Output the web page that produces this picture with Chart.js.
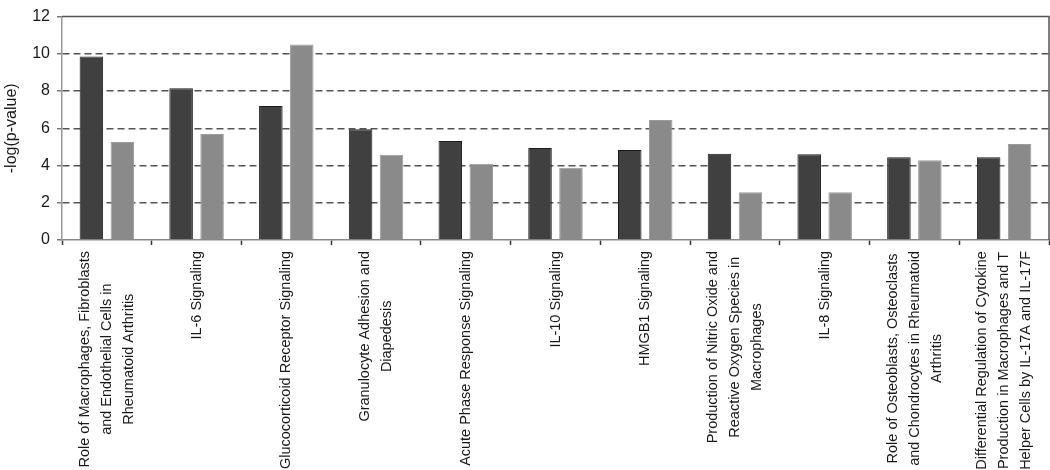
<!DOCTYPE html>
<html>
<head>
<meta charset="utf-8">
<script src="https://cdn.jsdelivr.net/npm/chart.js@4/dist/chart.umd.min.js"></script>
<style>
    body { margin: 0; background: #fff; }
    #wrap { width: 1050px; height: 470px; }
</style>
</head>
<body>
<div id="wrap"><canvas id="myChart" width="1050" height="470"></canvas></div>
<script>
// pathway names, one array of lines per category
const pathways = [
    ["Role of Macrophages, Fibroblasts", "and Endothelial Cells in", "Rheumatoid Arthritis"],
    ["IL-6 Signaling"],
    ["Glucocorticoid Receptor Signaling"],
    ["Granulocyte Adhesion and", "Diapedesis"],
    ["Acute Phase Response Signaling"],
    ["IL-10 Signaling"],
    ["HMGB1 Signaling"],
    ["Production of Nitric Oxide and", "Reactive Oxygen Species in", "Macrophages"],
    ["IL-8 Signaling"],
    ["Role of Osteoblasts, Osteoclasts", "and Chondrocytes in Rheumatoid", "Arthritis"],
    ["Differential Regulation of Cytokine", "Production in Macrophages and T", "Helper Cells by IL-17A and IL-17F"]
];
const darkValues = [9.86, 8.15, 7.2, 5.95, 5.32, 4.94, 4.84, 4.63, 4.6, 4.44, 4.44];
const lightValues = [5.27, 5.7, 10.5, 4.58, 4.1, 3.88, 6.45, 2.56, 2.56, 4.29, 5.16];
const yTicks = [0, 2, 4, 6, 8, 10, 12];

const labelFont = '15px "Liberation Sans", Arial, sans-serif';

// draws the rotated, centred category names and the top/right frame
const labelPlugin = {
    id: 'pathwayLabels',
    afterDraw(chart) {
        const ctx = chart.ctx;
        const xScale = chart.scales.x;
        const area = chart.chartArea;

        ctx.save();
        ctx.strokeStyle = '#555';
        ctx.lineWidth = 1.5;
        ctx.beginPath();
        ctx.moveTo(area.left, area.top);
        ctx.lineTo(area.right, area.top);
        ctx.lineTo(area.right, area.bottom);
        ctx.stroke();
        ctx.restore();

        ctx.save();
        ctx.font = labelFont;
        ctx.fillStyle = '#1a1a1a';
        ctx.textAlign = 'center';
        ctx.textBaseline = 'middle';
        const lineHeight = 22;
        const top = area.bottom + 11;
        const squeeze = 0.965;
        pathways.forEach((lines, i) => {
            const x = xScale.getPixelForValue(i);
            const blockWidth = Math.max(...lines.map(l => ctx.measureText(l).width)) * squeeze;
            ctx.save();
            ctx.translate(x, top);
            ctx.rotate(-Math.PI / 2);
            lines.forEach((line, j) => {
                const offset = (j - (lines.length - 1) / 2) * lineHeight;
                ctx.save();
                ctx.translate(-blockWidth / 2, offset);
                ctx.scale(squeeze, 1);
                ctx.fillText(line, 0, 0);
                ctx.restore();
            });
            ctx.restore();
        });
        ctx.restore();
    }
};

const ctx = document.getElementById('myChart');
const myChart = new Chart(ctx, {
    type: 'bar',
    data: {
        labels: pathways.map(p => p.join(' ')),
        datasets: [{
            label: 'Series 1',
            data: darkValues,
            backgroundColor: '#404040',
            borderColor: '#1c1c1c',
            borderWidth: 1
        }, {
            label: 'Series 2',
            data: lightValues,
            backgroundColor: '#8a8a8a',
            borderColor: '#9c9c9c',
            borderWidth: 1
        }]
    },
    options: {
        responsive: false,
        animation: false,
        layout: { padding: { top: 6, right: 1, left: 0, bottom: 0 } },
        categoryPercentage: 0.69,
        barPercentage: 0.76,
        plugins: {
            legend: { display: false },
            tooltip: { enabled: false }
        },
        scales: {
            x: {
                afterFit: s => { s.height = 230; },
                ticks: { display: false },
                grid: {
                    offset: true,
                    drawOnChartArea: false,
                    drawTicks: true,
                    tickLength: 5,
                    tickColor: '#333',
                    tickWidth: 1.5
                },
                border: { color: '#888', width: 1.5 }
            },
            y: {
                min: 0,
                max: 12,
                afterFit: s => { s.width = 62; },
                afterBuildTicks: s => { s.ticks = yTicks.map(v => ({ value: v })); },
                ticks: {
                    padding: 7,
                    color: '#1a1a1a',
                    font: { family: '"Liberation Sans", Arial, sans-serif', size: 16 }
                },
                grid: {
                    color: c => (c.tick && (c.tick.value === 0 || c.tick.value === 12)) ? 'rgba(0,0,0,0)' : '#555',
                    lineWidth: 1.5,
                    tickLength: 5,
                    tickColor: '#777',
                    tickBorderDash: []
                },
                border: { color: '#999', width: 1.5, dash: [7, 4] },
                title: {
                    display: true,
                    text: '-log(p-value)',
                    color: '#1a1a1a',
                    padding: { top: 2, bottom: 0 },
                    font: { family: '"Liberation Sans", Arial, sans-serif', size: 16 }
                }
            }
        }
    },
    plugins: [labelPlugin]
});
</script>
</body>
</html>
